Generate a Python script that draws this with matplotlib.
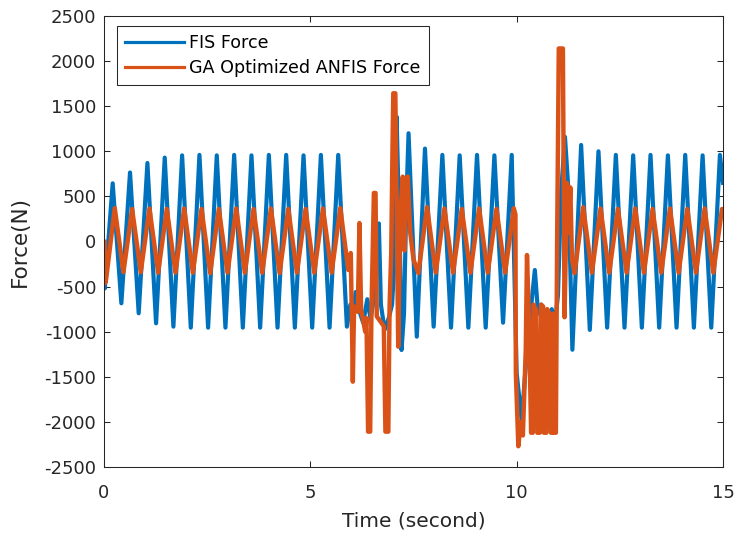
import matplotlib
matplotlib.use("Agg")
import matplotlib.pyplot as plt
from matplotlib.lines import Line2D

# FIS controller force: alternating peak/trough vertices (time in s, force in N)
fis_t = [0.000, 0.020, 0.211, 0.421, 0.631, 0.841, 1.052, 1.262, 1.472, 1.682,
         1.893, 2.103, 2.313, 2.523, 2.733, 2.943, 3.154, 3.364, 3.574, 3.784,
         3.995, 4.205, 4.415, 4.625, 4.835, 5.045, 5.256, 5.466, 5.676, 5.886,
         5.970, 6.030, 6.100, 6.180, 6.280, 6.380, 6.460, 6.550, 6.600, 6.660,
         6.710, 6.800, 6.900, 6.980, 7.030, 7.090, 7.130, 7.160, 7.210, 7.270,
         7.330, 7.380, 7.450, 7.580, 7.778, 7.988, 8.199, 8.409, 8.619, 8.829,
         9.039, 9.249, 9.460, 9.670, 9.880,
         10.000, 10.120, 10.200, 10.300, 10.440, 10.520, 10.600, 10.700, 10.760, 10.850,
         10.930, 11.000, 11.080, 11.170, 11.250, 11.350, 11.562, 11.772, 11.982, 12.192,
         12.403, 12.613, 12.823, 13.033, 13.243, 13.453, 13.664, 13.874, 14.084, 14.294,
         14.505, 14.715, 14.925, 15.000]
fis_f = [-200, -520, 645, -685, 765, -796, 870, -907, 930, -944,
         955, -955, 960, -955, 955, -955, 960, -955, 955, -955,
         960, -955, 960, -955, 955, -955, 960, -955, 960, -944,
         -700, -830, -560, -760, -900, -640, -860, -600, -200, 200,
         -700, -980, -850, -700, -300, 1384, 650, 300, -1203, -800,
         500, 1200, 400, -1055, 1030, -944, 960, -955, 955, -955,
         960, -955, 955, -900, 960,
         -1460, -1980, -1500, -950, -316, -800, -700, -850, -1170, -750,
         -900, -600, 570, 1160, 600, -1200, 1070, -980, 1000, -955,
         960, -955, 955, -955, 960, -955, 955, -955, 960, -955,
         955, -955, 960, 650]

# GA-optimized ANFIS controller force vertices
anfis_t = [0.000, 0.020, 0.030, 0.051, 0.261, 0.471, 0.681, 0.891, 1.102, 1.312,
           1.522, 1.732, 1.943, 2.153, 2.363, 2.573, 2.783, 2.993, 3.204, 3.414,
           3.624, 3.834, 4.045, 4.255, 4.465, 4.675, 4.885, 5.095, 5.306, 5.516,
           5.726, 5.920, 5.980, 6.030, 6.060, 6.150, 6.190, 6.230, 6.330, 6.360,
           6.400, 6.450, 6.480, 6.540, 6.580, 6.610, 6.720, 6.780, 6.820, 6.890,
           6.920, 6.960, 6.990, 7.010, 7.060, 7.130, 7.180, 7.240, 7.280, 7.320,
           7.360, 7.420, 7.500, 7.618, 7.828, 8.039, 8.249, 8.459, 8.669, 8.879,
           9.089, 9.299, 9.510, 9.720, 9.930,
           9.970, 9.980, 10.040, 10.100, 10.150, 10.220, 10.250, 10.300, 10.350, 10.390,
           10.410, 10.470, 10.500, 10.560, 10.590, 10.640, 10.660, 10.720, 10.740, 10.800,
           10.830, 10.860, 10.880, 10.900, 10.950, 10.980, 11.020, 11.120, 11.160, 11.220,
           11.260, 11.300, 11.340, 11.402, 11.612, 11.822, 12.032, 12.242, 12.453, 12.663,
           12.873, 13.083, 13.293, 13.503, 13.714, 13.924, 14.134, 14.344, 14.555, 14.765,
           14.975, 15.000]
anfis_f = [0, 0, -460, -420, 370, -340, 360, -340, 365, -345,
           360, -345, 365, -345, 360, -350, 360, -345, 365, -345,
           360, -345, 365, -350, 360, -345, 360, -345, 365, -345,
           370, -316, -128, -1554, -720, -780, 205, -750, -1000, -850,
           -2108, -2108, -800, 538, 538, -830, -900, -940, -2108, -2108,
           -720, -130, 1000, 1643, 1643, -1166, 300, 719, -100, 700,
           719, 100, -200, -350, 380, -345, 365, -345, 360, -345,
           365, -345, 360, -345, 368,
           300, -1460, -2270, -2000, -2150, -1200, -150, -900, -2120, -2120,
           -700, -760, -2120, -2120, -700, -720, -2120, -2120, -750, -800,
           -2120, -2120, -800, -2120, -2120, 0, 2140, 2140, -840, 650,
           100, 600, -200, -350, 380, -345, 365, -345, 360, -345,
           365, -345, 360, -345, 365, -345, 360, -345, 365, -345,
           360, 330]

series_labels = ["FIS Force", "GA Optimized ANFIS Force"]
series_colors = ["#0072BD", "#D95319"]
x_ticks = [0, 5, 10, 15]
y_ticks = [-2500, -2000, -1500, -1000, -500, 0, 500, 1000, 1500, 2000, 2500]

plt.rcParams["font.family"] = ["DejaVu Sans"]
plt.rcParams["axes.unicode_minus"] = False

ink = "#262626"
fig = plt.figure(figsize=(7.38, 5.35), dpi=100)
ax = fig.add_axes([0.1409, 0.1271, 0.8388, 0.8430])

ax.plot(fis_t, fis_f, color=series_colors[0], lw=3.0)
ax.plot(anfis_t, anfis_f, color=series_colors[1], lw=3.2)

ax.set_xlim(0, 15)
ax.set_ylim(-2500, 2500)
ax.set_xticks(x_ticks)
ax.set_yticks(y_ticks)
ax.tick_params(direction="in", length=4, width=0.75, colors=ink,
               labelsize=13, top=True, right=True)
ax.tick_params(axis="y", pad=5.5)
ax.tick_params(axis="x", pad=12.5)
for sp in ax.spines.values():
    sp.set_color(ink)
    sp.set_linewidth(0.75)

ax.set_xlabel("Time (second)", fontsize=14.5, color=ink, labelpad=6.5)
ax.set_ylabel("Force(N)", fontsize=15.5, color=ink, labelpad=10.5)

handles = [Line2D([], [], color=c, lw=2.3) for c in series_colors]
leg = ax.legend(handles, series_labels, loc="upper left",
                bbox_to_anchor=(0.0205, 0.978),
                borderaxespad=0, fontsize=12.6, handlelength=3.4,
                handletextpad=0.3, labelspacing=0.4, borderpad=0.45,
                fancybox=False, framealpha=1, edgecolor=ink)
leg.get_frame().set_linewidth(0.75)
for txt in leg.get_texts():
    txt.set_color("black")

fig.savefig("out.png", dpi=100)
